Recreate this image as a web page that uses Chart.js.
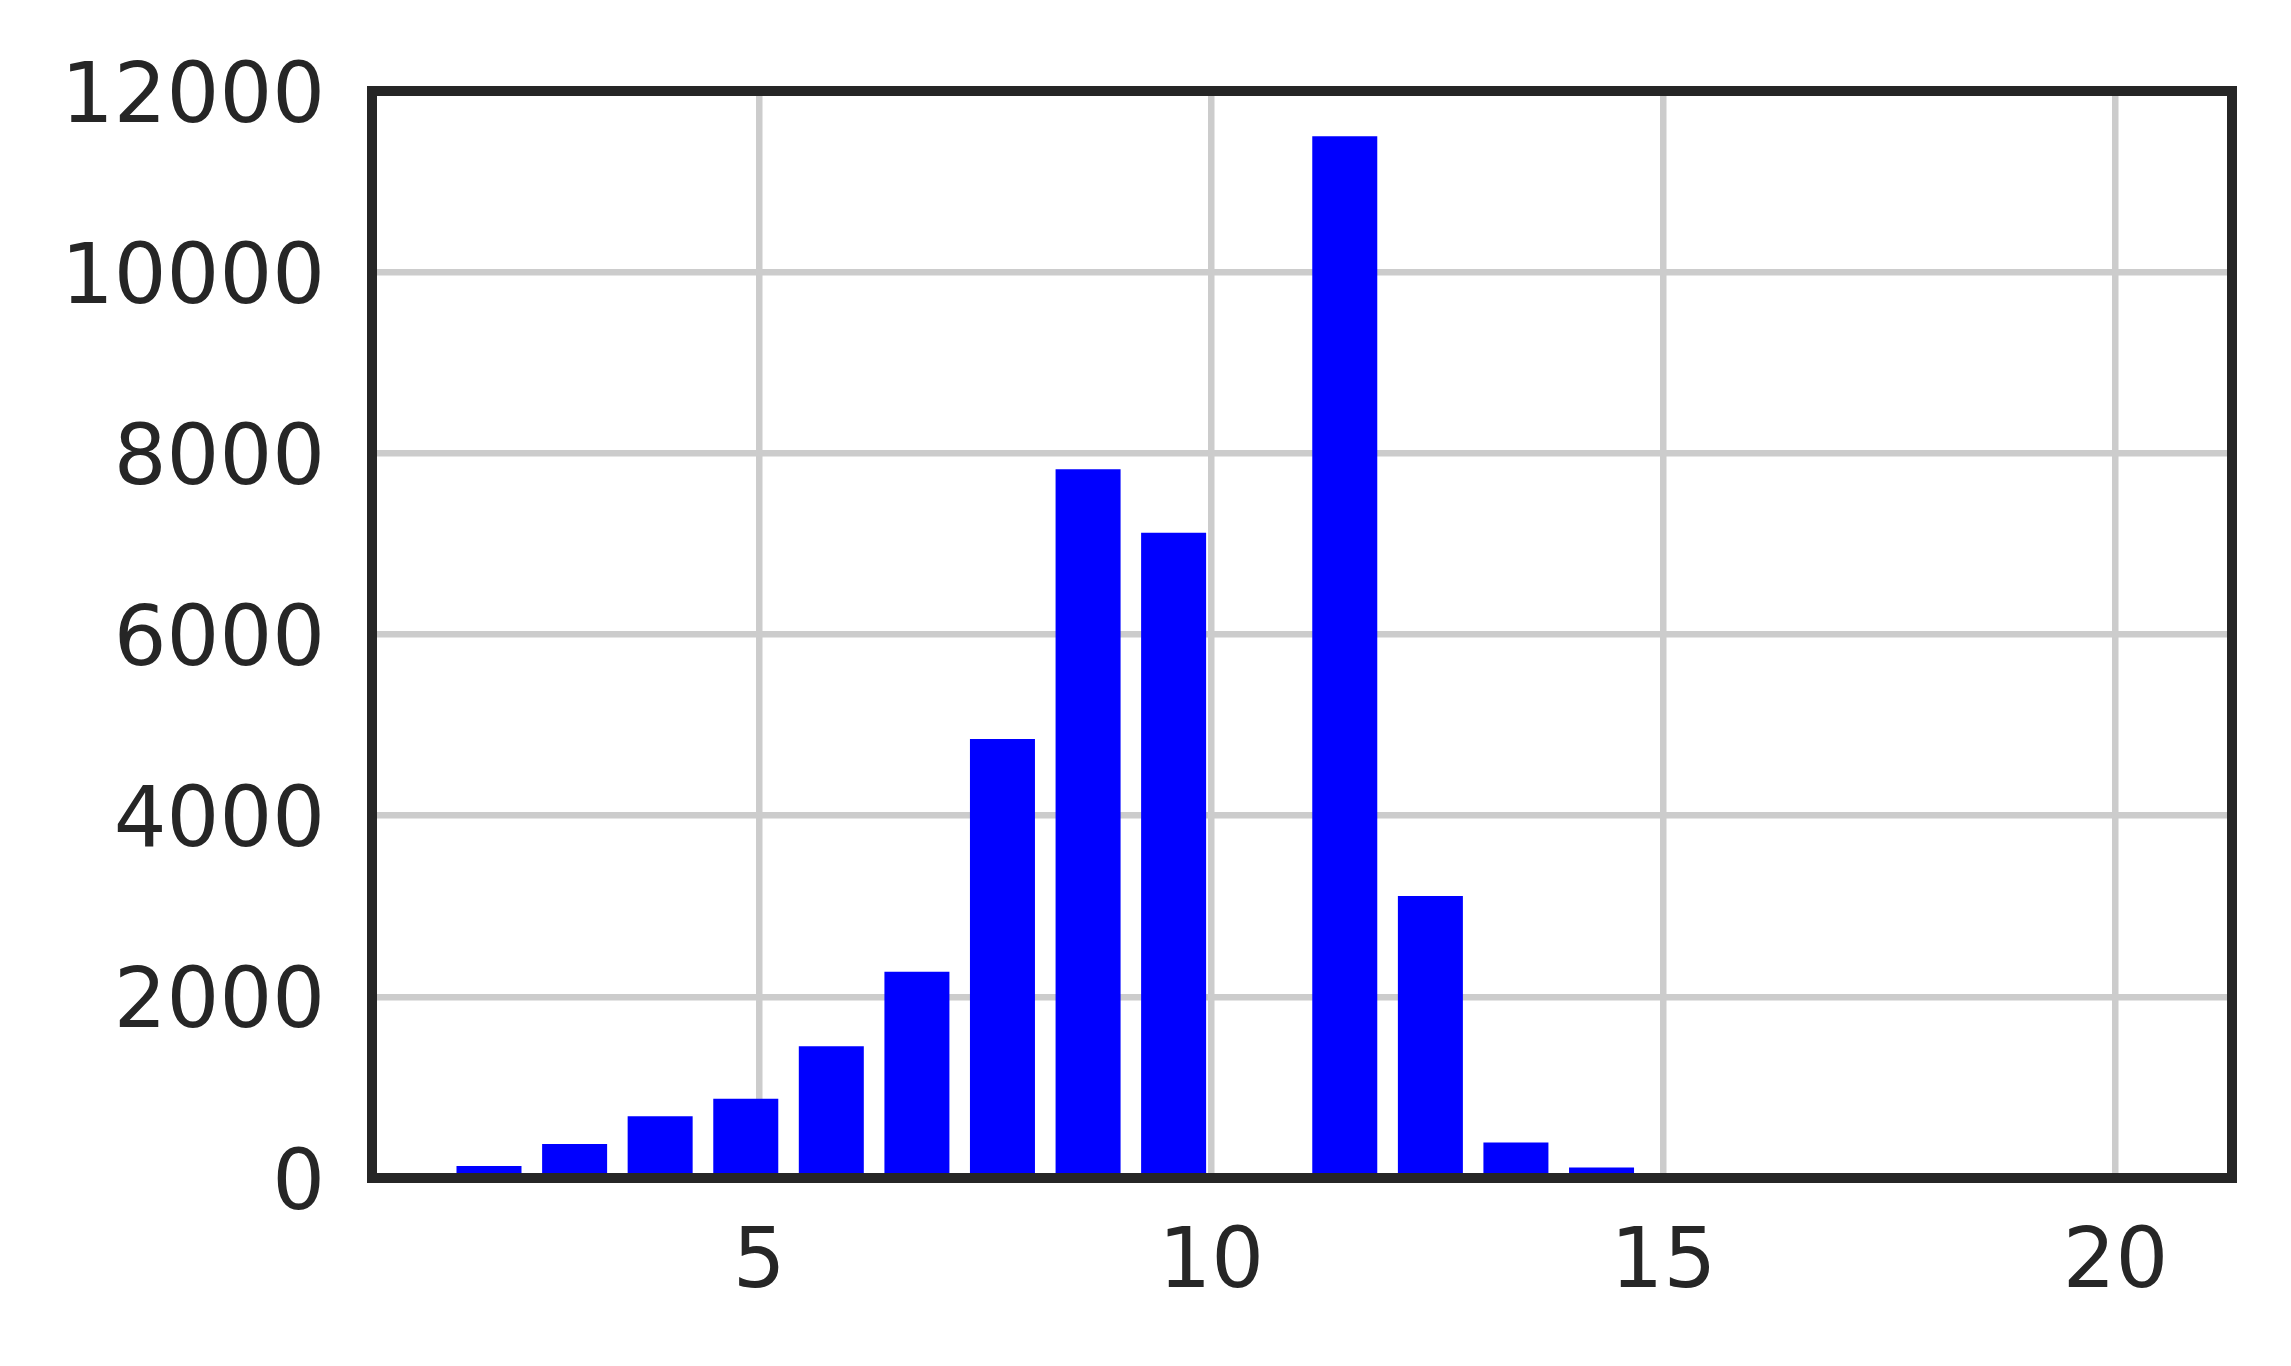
<!DOCTYPE html>
<html>
<head>
<meta charset="utf-8">
<script src="https://cdn.jsdelivr.net/npm/chart.js@4/dist/chart.umd.min.js"></script>
<style>
  html, body { margin: 0; padding: 0; background: #ffffff; }
  #wrap { width: 2291px; height: 1366px; }
</style>
</head>
<body>
<div id="wrap"><canvas id="c" width="2291" height="1366"></canvas></div>
<script>
// Histogram bin centres (x) and counts (y)
const binCenters = [2.011, 2.958, 3.904, 4.851, 5.797, 6.744, 7.690, 8.637, 9.583, 10.530,
                    11.476, 12.423, 13.369, 14.316, 15.262, 16.209, 17.155, 18.102, 19.048, 19.995];
const counts = [132, 375, 681, 875, 1455, 2278, 4845, 7825, 7122, 0,
                11500, 3112, 391, 117, 0, 0, 0, 0, 0, 0];
const xTicks = [5, 10, 15, 20];
const yTicks = [0, 2000, 4000, 6000, 8000, 10000, 12000];
const xRange = [0.717, 21.289];
const yRange = [0, 12000];

const TEXT = '#262626';
const FONT = { family: "'DejaVu Sans', sans-serif", size: 83 };

const framePlugin = {
  id: 'frame',
  afterDatasetsDraw(chart) {
    const a = chart.chartArea, ctx = chart.ctx;
    ctx.save();
    ctx.strokeStyle = TEXT;
    ctx.lineWidth = 10;
    ctx.lineJoin = 'miter';
    ctx.strokeRect(a.left, a.top, a.right - a.left, a.bottom - a.top);
    ctx.restore();
  }
};

new Chart(document.getElementById('c'), {
  type: 'bar',
  data: {
    datasets: [{
      data: binCenters.map((x, i) => ({ x: x, y: counts[i] })),
      backgroundColor: '#0000ff',
      borderWidth: 0,
      barPercentage: 0.76,
      categoryPercentage: 1.0
    }]
  },
  options: {
    responsive: false,
    devicePixelRatio: 1,
    animation: false,
    layout: { padding: { left: 0, top: 91, right: 59, bottom: 0 } },
    plugins: { legend: { display: false }, tooltip: { enabled: false } },
    scales: {
      x: {
        type: 'linear',
        min: xRange[0],
        max: xRange[1],
        offset: false,
        afterBuildTicks: s => { s.ticks = xTicks.map(v => ({ value: v })); },
        afterFit: s => { s.height = 188; s.paddingLeft = 0; s.paddingRight = 0; },
        grid: { color: '#cccccc', lineWidth: 6.5, drawTicks: false, offset: false },
        border: { display: false },
        ticks: { color: TEXT, font: FONT, padding: 38, maxRotation: 0,
                 callback: v => String(v) }
      },
      y: {
        type: 'linear',
        min: yRange[0],
        max: yRange[1],
        afterBuildTicks: s => { s.ticks = yTicks.map(v => ({ value: v })); },
        afterFit: s => { s.width = 372; s.paddingTop = 0; s.paddingBottom = 0; },
        grid: { color: '#cccccc', lineWidth: 6.5, drawTicks: false },
        border: { display: false },
        ticks: { color: TEXT, font: FONT, padding: 47, labelOffset: 9,
                 callback: v => String(v) }
      }
    }
  },
  plugins: [framePlugin]
});
</script>
</body>
</html>
